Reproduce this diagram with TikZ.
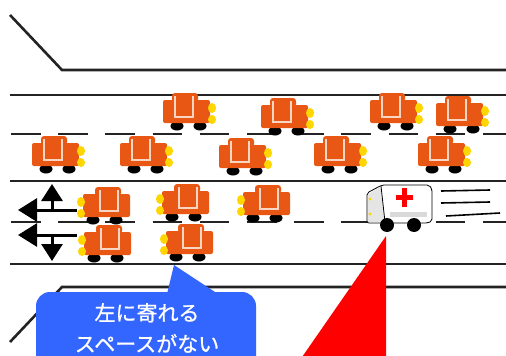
\documentclass[tikz,border=0pt]{standalone}
\usepackage{fontspec}
\newfontfamily\cjk[FakeBold=0.8]{Noto Sans CJK JP}
\usetikzlibrary{arrows.meta}

\definecolor{carorange}{RGB}{232,88,20}
\definecolor{lampyellow}{RGB}{255,214,0}
\definecolor{bubbleblue}{RGB}{51,102,255}
\definecolor{roadline}{RGB}{35,35,35}

\tikzset{
  road/.style={draw=roadline, line width=2.6pt},
  lanemark/.style={road, dash pattern=on 29.5pt off 17.7pt},
  sidearrow/.style={line width=3pt, -{Triangle[width=23pt,length=19pt]}},
  uparrow/.style={line width=3pt, -{Triangle[width=21pt,length=17pt]}},
  car/.pic={
    % wheels
    \fill[black] (-13,15) ellipse (6.5 and 4.5);
    \fill[black] (10,15) ellipse (6.5 and 4.5);
    % body and roof
    \fill[carorange, rounded corners=2pt] (-27,-11) rectangle (20,12);
    \fill[carorange, rounded corners=3pt] (-18,-18) rectangle (8,-9);
    % window shine
    \draw[white, opacity=.75, line width=1.3pt] (-15,-15) -- (-15,6) -- (3,6) -- (3,-15);
    % lamps
    \fill[lampyellow] (22,-3) ellipse (4 and 5);
    \fill[lampyellow] (22,8.5) ellipse (4 and 4.5);
  }
}

\begin{document}
\begin{tikzpicture}[x=1pt, y=-1pt]
        \useasboundingbox (0,0) rectangle (506,356);
        \fill[white] (0,0) rectangle (506,356);
        \clip (0,0) rectangle (506,356);
        % road edges and lanes
        \draw[road] (10,15) -- (62,70) -- (506,70);
        \draw[road] (10,95) -- (506,95);
        \draw[lanemark] (11,134) -- (506,134);
        \draw[road] (10,181) -- (506,181);
        \draw[lanemark] (11,222) -- (506,222);
        \draw[road] (10,264) -- (506,264);
        \draw[road] (10,342) -- (62,287) -- (506,287);
        % cars going right
        \pic at (190,111) {car};
        \pic at (288,116) {car};
        \pic at (397,111) {car};
        \pic at (463,114) {car};
        \pic at (59,154) {car};
        \pic at (147,154) {car};
        \pic at (246,156) {car};
        \pic at (341,154) {car};
        \pic at (445,154) {car};
        % cars going left
        \pic[xscale=-1] at (103,205) {car};
        \pic[xscale=-1] at (182,202) {car};
        \pic[xscale=-1] at (263,203) {car};
        \pic[xscale=-1] at (104,243) {car};
        \pic[xscale=-1] at (186,242) {car};
        % ambulance
        \draw[line width=.8pt, fill=white, rounded corners=2pt] (367,193) -- (382,185) -- (429,185) -- (432,189) -- (432,221) -- (428,223) -- (367,223) -- cycle;
        \fill[black!10] (368,194) -- (381,187) -- (385,222) -- (368,222) -- cycle;
        \draw[line width=.8pt] (381,186) -- (385,222);
        \fill[black!15] (390,212) rectangle (427,217);
        \fill[lampyellow] (370,199) circle (1.6);
        \fill[lampyellow] (370,214) circle (1.6);
        \fill[red] (402,188) rectangle (407,207);
        \fill[red] (396,195) rectangle (413,200);
        \fill (387,225) circle (7);
        \fill (414,225) circle (7);
        \draw[line width=1.6pt] (441,191) -- (490,190);
        \draw[line width=1.6pt] (441,203) -- (490,202);
        \draw[line width=1.6pt] (446,216) -- (500,213);
        % escape arrows
        \coordinate (topStart) at (77,210);
        \coordinate (topLeft) at (18,210);
        \coordinate (topFork) at (52,210);
        \coordinate (topUp) at (52,184);
        \coordinate (lowStart) at (77,235);
        \coordinate (lowLeft) at (18,235);
        \coordinate (lowFork) at (52,235);
        \coordinate (lowDown) at (52,261);
        \draw[sidearrow] (topStart) -- (topLeft);
        \draw[uparrow] (topFork) -- (topUp);
        \draw[sidearrow] (lowStart) -- (lowLeft);
        \draw[uparrow] (lowFork) -- (lowDown);
        % speech bubble
        \fill[bubbleblue, rounded corners=14pt] (36,292) rectangle (256,372);
        \fill[bubbleblue] (167,294) -- (174,265) -- (218,294) -- cycle;
        \node[text=white, align=center, font=\cjk\fontsize{21}{31}\selectfont] (note) at (147,328) {左に寄れる\\スペースがない};
        % red wedge
        \fill[red] (386,236) -- (386,360) -- (300,360) -- cycle;
\end{tikzpicture}
\end{document}
